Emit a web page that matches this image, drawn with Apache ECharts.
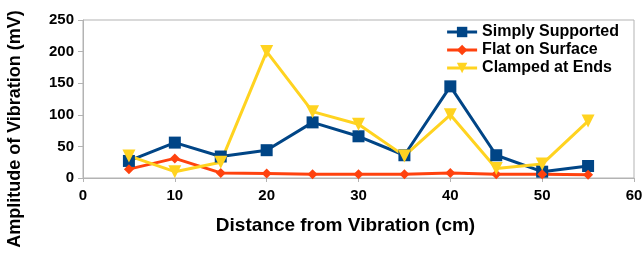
<!DOCTYPE html>
<html>
<head>
<meta charset="utf-8">
<script src="https://cdn.jsdelivr.net/npm/echarts@6/dist/echarts.min.js"></script>
<style>
	html, body { margin: 0; padding: 0; background: #fff; }
	#chart { width: 644px; height: 255px; }
</style>
</head>
<body>
<div id="chart"></div>
<script>
const distances = [5, 10, 15, 20, 25, 30, 35, 40, 45, 50, 55];
const simplySupported = [27, 56, 34, 44, 88, 66, 36, 145, 36, 10, 19];
const flatOnSurface = [14, 31, 8, 7, 6, 6, 6, 8, 6, 6, 5];
const clampedAtEnds = [35, 10, 25, 200, 105, 85, 35, 100, 15, 22, 90];

const FONT = '"Liberation Sans", Arial, sans-serif';

const pairs = (ys) => distances.map((x, i) => [x, ys[i]]);

const makeSeries = (name, ys, color, symbol, size, rotate) => ({
	type: 'line',
	name: name,
	data: pairs(ys),
	symbol: symbol,
	symbolSize: size,
	symbolRotate: rotate || 0,
	color: color,
	lineStyle: { width: 3, color: color },
	itemStyle: { color: color },
	animation: false
});

const myChart = echarts.init(document.getElementById('chart'));

myChart.setOption({
	animation: false,
	grid: {
		left: 83,
		right: 10,
		top: 20,
		bottom: 77,
		outerBoundsMode: 'none',
		show: true,
		borderColor: '#b3b3b3',
		borderWidth: 1
	},
	legend: {
		orient: 'vertical',
		right: 20,
		top: 19,
		itemWidth: 30,
		itemHeight: 13,
		itemGap: 2,
		lineStyle: { width: 3 },
		textStyle: { fontFamily: FONT, fontWeight: 'bold', fontSize: 16, lineHeight: 16, color: '#000' },
		data: ['Simply Supported', 'Flat on Surface', 'Clamped at Ends']
	},
	graphic: [{
		type: 'text',
		x: 15,
		y: 129,
		rotation: Math.PI / 2,
		style: {
			text: 'Amplitude of Vibration (mV)',
			font: 'bold 18px ' + FONT,
			fill: '#000',
			align: 'center',
			verticalAlign: 'middle'
		}
	}],
	xAxis: {
		type: 'value',
		min: 0,
		max: 60,
		interval: 10,
		name: 'Distance from Vibration (cm)',
		nameLocation: 'middle',
		nameGap: 38,
		nameTextStyle: { fontFamily: FONT, fontWeight: 'bold', fontSize: 19, color: '#000', padding: [0, 26, 0, 0] },
		axisLine: { lineStyle: { color: '#b3b3b3' } },
		axisTick: { show: true, length: 4, lineStyle: { color: '#b3b3b3' } },
		splitLine: { show: false },
		axisLabel: { fontFamily: FONT, fontWeight: 'bold', fontSize: 15, color: '#000', margin: 10 }
	},
	yAxis: {
		type: 'value',
		min: 0,
		max: 250,
		interval: 50,
		axisLine: { show: true, lineStyle: { color: '#b3b3b3' } },
		axisTick: { show: true, length: 5, lineStyle: { color: '#b3b3b3' } },
		splitLine: { show: false },
		axisLabel: { fontFamily: FONT, fontWeight: 'bold', fontSize: 15, color: '#000', margin: 9 }
	},
	series: [
		makeSeries('Simply Supported', simplySupported, '#004586', 'rect', 12),
		makeSeries('Flat on Surface', flatOnSurface, '#ff420e', 'diamond', 10),
		makeSeries('Clamped at Ends', clampedAtEnds, '#ffd320', 'triangle', 13, 180)
	]
});
</script>
</body>
</html>
